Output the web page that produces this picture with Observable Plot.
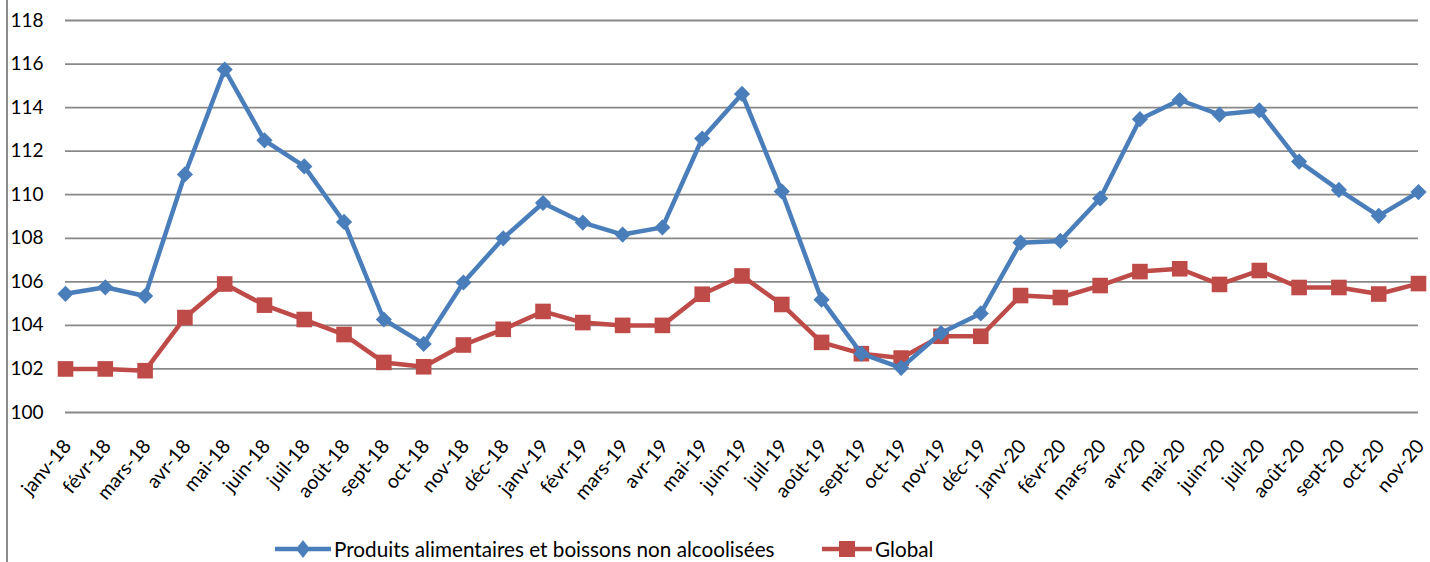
<!DOCTYPE html>
<html>
<head>
<meta charset="utf-8">
<script src="https://cdn.jsdelivr.net/npm/d3@7"></script>
<script src="https://cdn.jsdelivr.net/npm/@observablehq/plot@0.6"></script>
<style>
  html, body { margin: 0; padding: 0; background: #fff; }
  #wrap { position: relative; width: 1430px; height: 562px; overflow: hidden; font-family: Lato, "Open Sans", sans-serif; }
  #frame { position: absolute; left: 6px; top: 0; width: 2px; height: 562px; background: #8c8c8c; }
  #legend { position: absolute; top: 536px; left: 0; width: 1430px; height: 26px; font-size: 20.7px; color: #000; }
  .item { position: absolute; top: 0; display: flex; align-items: center; height: 26px; white-space: nowrap; }
  .item svg { margin-right: 3px; }
</style>
</head>
<body>
<div id="wrap">
  <div id="chart"></div>
  <div id="frame"></div>
  <div id="legend"></div>
</div>
<script>
const months = ["janv-18","févr-18","mars-18","avr-18","mai-18","juin-18","juil-18","août-18","sept-18","oct-18","nov-18","déc-18",
  "janv-19","févr-19","mars-19","avr-19","mai-19","juin-19","juil-19","août-19","sept-19","oct-19","nov-19","déc-19",
  "janv-20","févr-20","mars-20","avr-20","mai-20","juin-20","juil-20","août-20","sept-20","oct-20","nov-20"];
const foodValues = [105.45,105.75,105.35,110.93,115.75,112.5,111.3,108.75,104.27,103.15,105.97,108.0,
  109.62,108.72,108.17,108.5,112.58,114.63,110.15,105.18,102.7,102.05,103.65,104.55,
  107.8,107.88,109.83,113.47,114.35,113.68,113.87,111.52,110.22,109.03,110.12];
const globalValues = [102.0,102.0,101.92,104.36,105.9,104.93,104.27,103.58,102.3,102.1,103.1,103.82,
  104.64,104.13,104.0,104.0,105.43,106.27,104.96,103.22,102.7,102.5,103.5,103.5,
  105.37,105.28,105.83,106.47,106.6,105.88,106.52,105.74,105.74,105.44,105.92];
const yTicks = [100,102,104,106,108,110,112,114,116,118];
const seriesNames = ["Produits alimentaires et boissons non alcoolisées", "Global"];
const colors = ["#4a7ebb", "#be4b48"];

const food = months.map((m, i) => ({month: m, value: foodValues[i]}));
const glob = months.map((m, i) => ({month: m, value: globalValues[i]}));

const chart = Plot.plot({
  width: 1430,
  height: 520,
  marginLeft: 65,
  marginRight: 12,
  marginTop: 20,
  marginBottom: 108,
  style: {fontFamily: "Lato, 'Open Sans', sans-serif", fontSize: "19px", color: "#000", background: "#fff"},
  x: {type: "point", domain: months, padding: 0, round: false, label: null},
  y: {domain: [100, 118], label: null},
  marks: [
    Plot.ruleY(yTicks, {stroke: "#888", strokeWidth: 1.8}),
    Plot.axisY({ticks: yTicks, tickSize: 0, tickPadding: 0, textAnchor: "start", dx: -55, label: null, fontSize: 19, tickFormat: d => String(d)}),
    Plot.axisX({tickSize: 0, tickRotate: -50, tickPadding: 30, dx: 2, label: null, fontSize: 19.5}),
    Plot.line(glob, {x: "month", y: "value", stroke: colors[1], strokeWidth: 4.5}),
    Plot.dot(glob, {x: "month", y: "value", symbol: "square", r: 8.8, fill: colors[1], stroke: "none"}),
    Plot.line(food, {x: "month", y: "value", stroke: colors[0], strokeWidth: 4.5}),
    Plot.dot(food, {x: "month", y: "value", symbol: "diamond2", r: 7.3, fill: colors[0], stroke: "none"})
  ]
});
document.getElementById("chart").appendChild(chart);

// Legend
const legend = document.getElementById("legend");
const positions = [275, 822];
const symbols = ["diamond", "square"];
seriesNames.forEach((name, i) => {
  const item = document.createElement("div");
  item.className = "item";
  item.style.left = positions[i] + "px";
  const w = i === 0 ? 56 : 50;
  const sw = d3.create("svg").attr("width", w).attr("height", 26);
  sw.append("line").attr("x1", 0).attr("x2", w).attr("y1", 13).attr("y2", 13)
    .attr("stroke", colors[i]).attr("stroke-width", 4.5);
  if (symbols[i] === "diamond") {
    sw.append("path").attr("d", `M${w/2},4 L${w/2+7},13 L${w/2},22 L${w/2-7},13 Z`).attr("fill", colors[i]);
  } else {
    sw.append("rect").attr("x", w/2 - 8).attr("y", 5).attr("width", 16).attr("height", 16).attr("fill", colors[i]);
  }
  item.appendChild(sw.node());
  const t = document.createElement("span");
  t.textContent = name;
  item.appendChild(t);
  legend.appendChild(item);
});
</script>
</body>
</html>
